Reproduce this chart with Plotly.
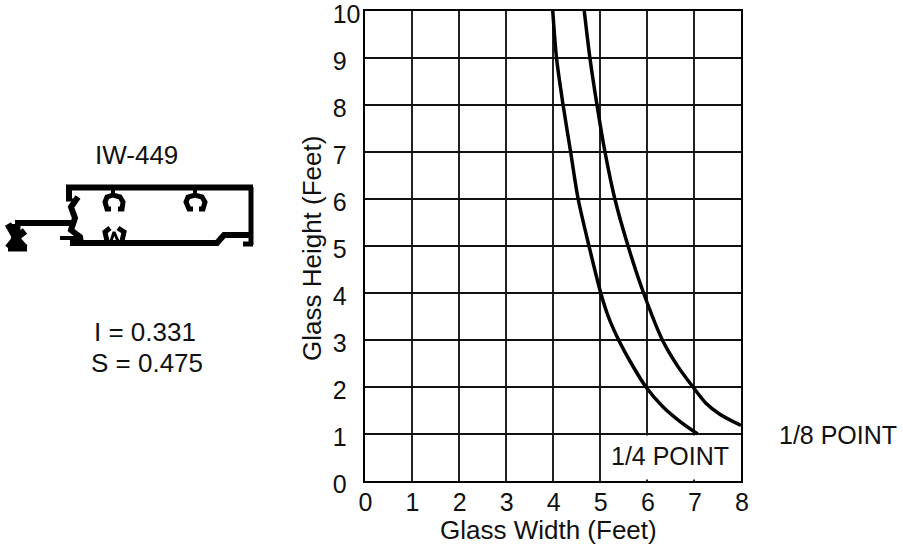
import plotly.graph_objects as go

W, H = 903, 544
# Chart data
quarter_x = [4.0, 4.08, 4.22, 4.38, 4.54, 4.77, 5.02, 5.18, 5.4, 5.67, 5.98, 6.34, 6.7, 7.08]
quarter_y = [10, 9, 8, 7, 6, 5, 4, 3.5, 3, 2.5, 2, 1.58, 1.27, 1]
eighth_x = [4.67, 4.79, 4.94, 5.11, 5.32, 5.6, 5.93, 6.33, 6.65, 6.98, 7.25, 7.55, 8.0]
eighth_y = [10, 9, 8, 7, 6, 5, 4, 3, 2.45, 2, 1.66, 1.42, 1.18]
x_ticks = [0, 1, 2, 3, 4, 5, 6, 7, 8]
y_ticks = [0, 1, 2, 3, 4, 5, 6, 7, 8, 9, 10]
y_labels = ["0\u2007", "1\u2007", "2\u2007", "3\u2007", "4\u2007", "5\u2007", "6\u2007", "7\u2007", "8\u2007", "9\u2007", "10"]

# Extrusion profile outline pieces (drawing units)
profile_parts = [
    ([66, 253], [187.5, 187.5], 6),
    ([251, 251], [187, 245], 5),
    ([70, 217, 224, 251], [243, 243, 235, 235], 6),
    ([243, 253], [244, 244], 5),
    ([69, 69], [187, 200], 6),
    ([66, 78], [200, 200], 3),
    ([78, 71, 75, 71, 80, 81], [197, 207, 218, 230, 237, 243], 6),
    ([15, 72], [223, 223], 6),
    ([60, 80], [238, 238], 4),
    ([8, 16, 8], [224, 238, 248], 7),
    ([25, 16, 25], [231, 238, 248], 7),
    ([8, 27], [248, 248], 7),
    ([16, 16], [224, 250], 9),
    ([113, 113], [187, 194], 4),
    ([195, 195], [187, 194], 4),
    ([111, 107, 105, 107, 113, 120, 123, 122, 118], [209, 209, 202, 197, 195, 197, 202, 209, 209], 5),
    ([193, 189, 186, 188, 195, 202, 205, 203, 199], [209, 209, 202, 197, 195, 197, 202, 209, 209], 5),
    ([107, 105, 110], [241, 232, 228], 5),
    ([122, 124, 118], [241, 232, 228], 5),
    ([111, 114, 118], [241, 232, 241], 3),
]

fig = go.Figure()
for xs, ys in ((quarter_x, quarter_y), (eighth_x, eighth_y)):
    fig.add_trace(go.Scatter(x=xs, y=ys, mode="lines", cliponaxis=False,
                             line=dict(color="black", width=3.5, shape="spline", smoothing=0.8),
                             showlegend=False, hoverinfo="skip"))
for xs, ys, w in profile_parts:
    fig.add_trace(go.Scatter(x=xs, y=ys, xaxis="x2", yaxis="y2", mode="lines",
                             line=dict(color="black", width=w), showlegend=False, hoverinfo="skip"))

FONT = dict(family="Liberation Sans, Arial, sans-serif", size=25, color="#111111")
FONT_L = dict(family="Liberation Sans, Arial, sans-serif", size=26, color="#111111")
def px_ann(text, x, y, font=FONT, **kw):
    return dict(text=text, x=x / W, y=1 - y / H, xref="paper", yref="paper",
                showarrow=False, xanchor="center", yanchor="middle", font=font, **kw)

fig.update_layout(
    width=W, height=H, margin=dict(l=0, r=0, t=0, b=0, autoexpand=False), autosize=False,
    paper_bgcolor="white", plot_bgcolor="white", font=FONT,
    xaxis=dict(domain=[364.5 / W, 741 / W], range=[0, 8], tickvals=x_ticks,
               showgrid=True, gridcolor="#222222", gridwidth=1.5, zeroline=False,
               showline=True, linecolor="black", linewidth=2, mirror=True,
               ticks="", ticklabelstandoff=-2, ticklabelshift=1, ticklabeloverflow="allow", tickfont=FONT),
    yaxis=dict(domain=[1 - 481 / H, 1 - 11 / H], range=[0, 10], tickvals=y_ticks, ticktext=y_labels,
               showgrid=True, gridcolor="#111111", gridwidth=1.5, zeroline=False,
               showline=True, linecolor="black", linewidth=2, mirror=True,
               ticks="", ticklabelstandoff=-3, ticklabelshift=3, ticklabeloverflow="allow", tickfont=FONT),
    xaxis2=dict(domain=[0, 270 / W], range=[0, 270], visible=False, anchor="y2"),
    yaxis2=dict(domain=[1 - 270 / H, 1 - 170 / H], range=[270, 170], visible=False, anchor="x2"),
    shapes=[dict(type="rect", xref="x", yref="y", x0=5.03, x1=7.97, y0=0.03, y1=0.97,
                 fillcolor="white", line=dict(width=0), layer="above")],
    annotations=[
        px_ann("IW-449", 136, 155, FONT_L),
        px_ann("I = 0.331", 145, 332, FONT_L),
        px_ann("S = 0.475", 147, 363, FONT_L),
        px_ann("1/4 POINT", 670, 456),
        px_ann("1/8 POINT", 838, 435),
        px_ann("Glass Width (Feet)", 548, 530, FONT_L),
        px_ann("Glass Height (Feet)", 312, 249, FONT_L, textangle=-90),
    ],
)
fig.write_html("out.html", post_script="document.body.style.margin='0';",
               config={"displayModeBar": False})
